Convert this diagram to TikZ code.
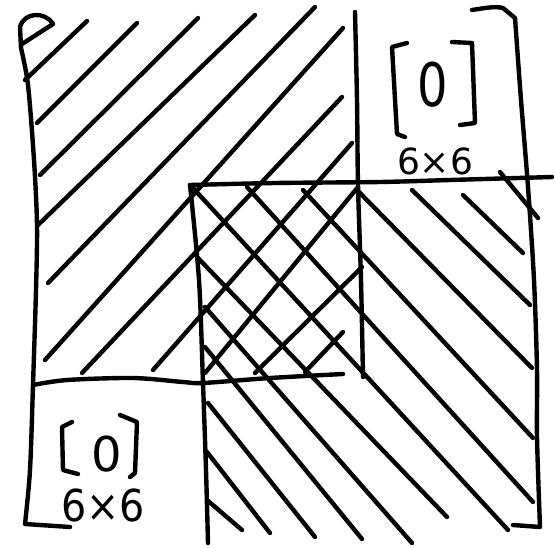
\documentclass[tikz,border=0pt]{standalone}
\usepackage{fontspec}
\newfontfamily\handfont{DejaVu Sans}
\begin{document}
\begin{tikzpicture}[x=1pt,y=-1pt,
  ink/.style={line width=4.4pt, line cap=round, line join=round, black},
  hand/.style={inner sep=0pt, outer sep=0pt, black}]
\useasboundingbox (0,0) rectangle (555,547);
% ---- outer matrix brackets ----
\draw[ink] (22,44) -- (53,24) .. controls (45,11) and (24,12) .. (20,27) -- (21,48);
\draw[ink] plot[smooth] coordinates {(21,48) (28,85) (34,160) (37,225) (36,290) (33,385) (30,470) (25,524)} -- (70,527);
\draw[ink] (472,10) .. controls (485,8) and (495,6) .. (503,8) -- (515,18)
  plot[smooth] coordinates {(515,18) (521,100) (528,187) (534,280) (537,370) (537,437) (540,527)} -- (513,525);
% ---- block dividers ----
\draw[ink] plot[smooth] coordinates {(190,185) (275,183) (380,182) (450,180) (552,177)};
\draw[ink] plot[smooth] coordinates {(190,185) (199,280) (203,383) (206,470) (208,543)};
\draw[ink] plot[smooth] coordinates {(355,12) (357,100) (358,185) (361,280) (363,377)};
\draw[ink] plot[smooth] coordinates {(33,385) (67,380) (133,378) (183,382) (203,383) (270,378) (343,374)};
% ---- "/" hatching (upper-left block) ----
\foreach \xa/\ya/\xb/\yb in {25/80/87/21, 37/123/137/23, 40/175/198/18, 38/225/255/15,
  48/283/315/7, 45/360/343/28, 82/373/342/97, 153/370/352/143,
  358/187/205/373, 362/267/255/373, 343/332/305/372}
  \draw[ink] (\xa,\ya) -- (\xb,\yb);
% ---- "\" hatching (lower-right block) ----
\foreach \xa/\ya/\xb/\yb in {500/172/538/218, 463/195/523/253, 412/190/530/305, 357/190/532/368,
  303/190/533/438, 247/187/533/502, 193/188/508/530, 197/257/447/517,
  205/307/412/543, 205/347/362/539, 208/403/315/537, 207/452/270/533, 207/500/242/530}
  \draw[ink] (\xa,\ya) -- (\xb,\yb);
% ---- zero block, top right ----
\draw[ink] (407,43) -- (392,47) -- (397,134) -- (405,137);
\draw[ink] (452,42) -- (472,43) -- (475,123) -- (460,125);
\node[hand, font=\handfont\fontsize{60}{60}\selectfont, xscale=0.8] (zeroA) at (433,85) {0};
\node[hand, font=\handfont\fontsize{36}{36}\selectfont] (dimA) at (435,161) {6×6};
% ---- zero block, bottom left ----
\draw[ink] (72,422) -- (62,427) -- (63,470) -- (78,474);
\draw[ink] (120,415) -- (137,422) -- (135,473) -- (130,477);
\node[hand, font=\handfont\fontsize{48}{48}\selectfont] (zeroB) at (107,454) {0};
\node[hand, font=\handfont\fontsize{44}{44}\selectfont, xscale=0.9] (dimB) at (103,505) {6×6};
\end{tikzpicture}
\end{document}
